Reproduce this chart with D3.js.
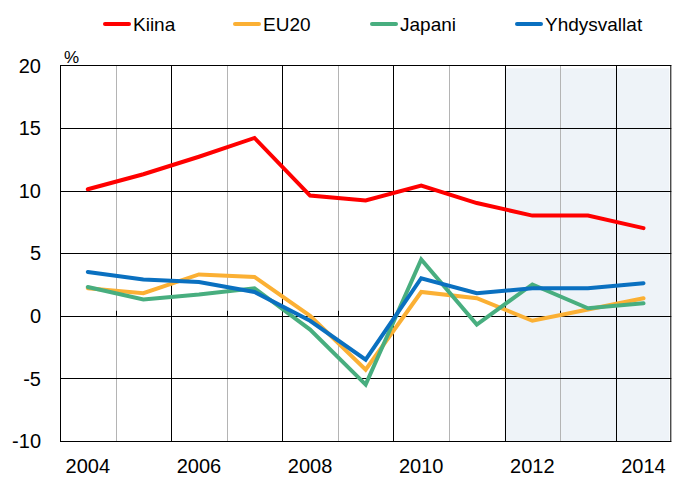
<!DOCTYPE html>
<html><head><meta charset="utf-8">
<script src="https://cdn.jsdelivr.net/npm/d3@7"></script>
<style>body{margin:0;background:#fff}svg{display:block}text{font-family:"Liberation Sans",Arial,sans-serif;fill:#000}</style>
</head><body>
<svg id="c" width="696" height="492"></svg>
<script>
const years = [2004,2005,2006,2007,2008,2009,2010,2011,2012,2013,2014];
const kiina = [10.1,11.3,12.7,14.2,9.6,9.2,10.4,9.0,8.0,8.0,7.0];
const eu20 = [2.2,1.8,3.3,3.1,0.0,-4.3,1.9,1.4,-0.4,0.5,1.4];
const japani = [2.3,1.3,1.7,2.2,-1.1,-5.5,4.5,-0.7,2.5,0.6,1.0];
const yhdysvallat = [3.5,2.9,2.7,1.9,-0.4,-3.5,3.0,1.8,2.2,2.2,2.6];
const seriesNames = ["Kiina","EU20","Japani","Yhdysvallat"];
const yTicks = [-10,-5,0,5,10,15,20];
const xLabelYears = [2004,2006,2008,2010,2012,2014];
const forecastYears = [2012,2013,2014];

const colors = ["#FF0000","#FBB034","#48AE7F","#0A70C0"];
const seriesData = [kiina, eu20, japani, yhdysvallat];

const svg = d3.select("#c");
const L = 60, R = 671.3, T = 65.3, B = 441;
const x = d3.scaleBand().domain(years).range([L, R]).padding(0);
const bw = x.bandwidth();
const cx = d => x(d) + bw/2;
const y = d3.scaleLinear().domain([-10,20]).range([B, T]);

// forecast shading
svg.append("rect")
  .attr("x", x(forecastYears[0]))
  .attr("y", T + 3)
  .attr("width", x(forecastYears[forecastYears.length-1]) + bw - x(forecastYears[0]) - 2)
  .attr("height", B - T - 3)
  .attr("fill", "#EEF3F8");

// vertical gridlines
years.slice(1).forEach((yr, i) => {
  const xi = Math.round(x(yr)) + 0.5;
  svg.append("line").attr("x1", xi).attr("x2", xi).attr("y1", T).attr("y2", B)
    .attr("stroke", (i % 2 === 0) ? "#B4B4B4" : "#000").attr("stroke-width", 1);
});

// horizontal gridlines
yTicks.forEach(v => {
  const yi = Math.round(y(v)) + 0.5;
  svg.append("line").attr("x1", L).attr("x2", R).attr("y1", yi).attr("y2", yi)
    .attr("stroke", "#000").attr("stroke-width", 1);
});

// small x ticks on zero line
years.slice(1).forEach(yr => {
  const xi = Math.round(x(yr)) + 0.5;
  svg.append("line").attr("x1", xi).attr("x2", xi).attr("y1", y(0) - 5).attr("y2", y(0))
    .attr("stroke", "#000").attr("stroke-width", 1);
});

// border
svg.append("rect").attr("x", L + 0.5).attr("y", Math.round(T) + 0.5)
  .attr("width", R - L - 1).attr("height", Math.round(B) - Math.round(T))
  .attr("fill", "none").attr("stroke", "#000").attr("stroke-width", 1);

// y tick labels
svg.selectAll(".yt").data(yTicks).enter().append("text")
  .attr("x", 41).attr("y", d => y(d) + 7.2)
  .attr("text-anchor", "end").attr("font-size", 20).text(d => d);

// x labels
svg.selectAll(".xt").data(xLabelYears).enter().append("text")
  .attr("x", d => cx(d)).attr("y", 473.3)
  .attr("text-anchor", "middle").attr("font-size", 20).text(d => d);

// % unit
svg.append("text").attr("x", 64).attr("y", 63).attr("font-size", 17).text("%");

// lines
const line = d3.line().x((d, i) => cx(years[i])).y(d => y(d)).curve(d3.curveLinear);
seriesData.forEach((s, k) => {
  svg.append("path").attr("d", line(s)).attr("fill", "none")
    .attr("stroke", colors[k]).attr("stroke-width", 4)
    .attr("stroke-linejoin", "miter").attr("stroke-linecap", "round");
});

// legend
const legX = [103, 233, 370, 515];
seriesNames.forEach((n, k) => {
  svg.append("line").attr("x1", legX[k] + 2).attr("x2", legX[k] + 26).attr("y1", 24).attr("y2", 24)
    .attr("stroke", colors[k]).attr("stroke-width", 4).attr("stroke-linecap", "round");
  svg.append("text").attr("x", legX[k] + 30).attr("y", 30.7).attr("font-size", 19).text(n);
});
</script>
</body></html>
